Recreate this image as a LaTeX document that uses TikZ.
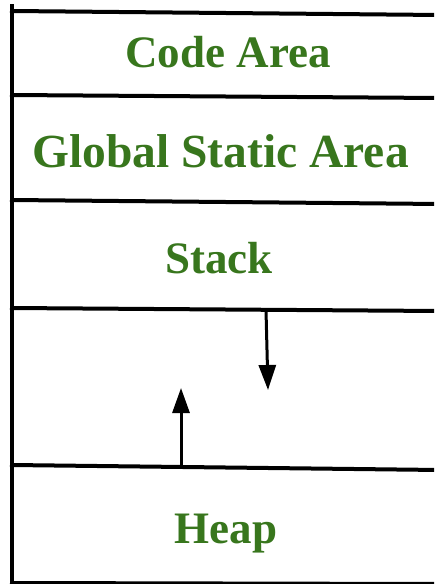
\documentclass[tikz,border=0pt]{standalone}
\usepackage{fontspec}
\setmainfont{Liberation Serif}
\usetikzlibrary{arrows.meta}
\definecolor{areagreen}{HTML}{38761D}
\tikzset{
  wall/.style={line width=4pt, line cap=rect},
  arealabel/.style={font=\bfseries\fontsize{45}{54}\selectfont, text=areagreen, inner sep=0pt, anchor=base},
  growth/.style={line width=3pt, -{Triangle[width=17pt,length=25pt]}}
}
\begin{document}
\begin{tikzpicture}[x=1pt,y=-1pt]
  \useasboundingbox (0,0) rectangle (434,584);
  \clip (0,0) rectangle (434,584);
  % outer wall and area dividers
  \draw[wall] (12,6) -- (12,590);
  \draw[wall] (12,11) -- (440,15);
  \draw[wall] (12,95) -- (440,98);
  \draw[wall] (12,200) -- (440,204);
  \draw[wall] (12,308) -- (440,311);
  \draw[wall] (12,465) -- (440,470);
  \draw[wall] (12,583) -- (440,584);
  % area names
  \node[arealabel] (code)   at (228,67)  {Code Area};
  \node[arealabel, font=\bfseries\fontsize{47.5}{56}\selectfont] (global) at (220.5,167) {Global Static Area};
  \node[arealabel] (stack)  at (219,273) {Stack};
  \node[arealabel] (heap)   at (226,543) {Heap};
  % stack grows down, heap grows up
  \coordinate (stacktop) at (266,310);
  \coordinate (stackend) at (268,390);
  \coordinate (heaptop)  at (181,467);
  \coordinate (heapend)  at (181,388);
  \draw[growth] (stacktop) -- (stackend);
  \draw[growth] (heaptop) -- (heapend);
\end{tikzpicture}
\end{document}
